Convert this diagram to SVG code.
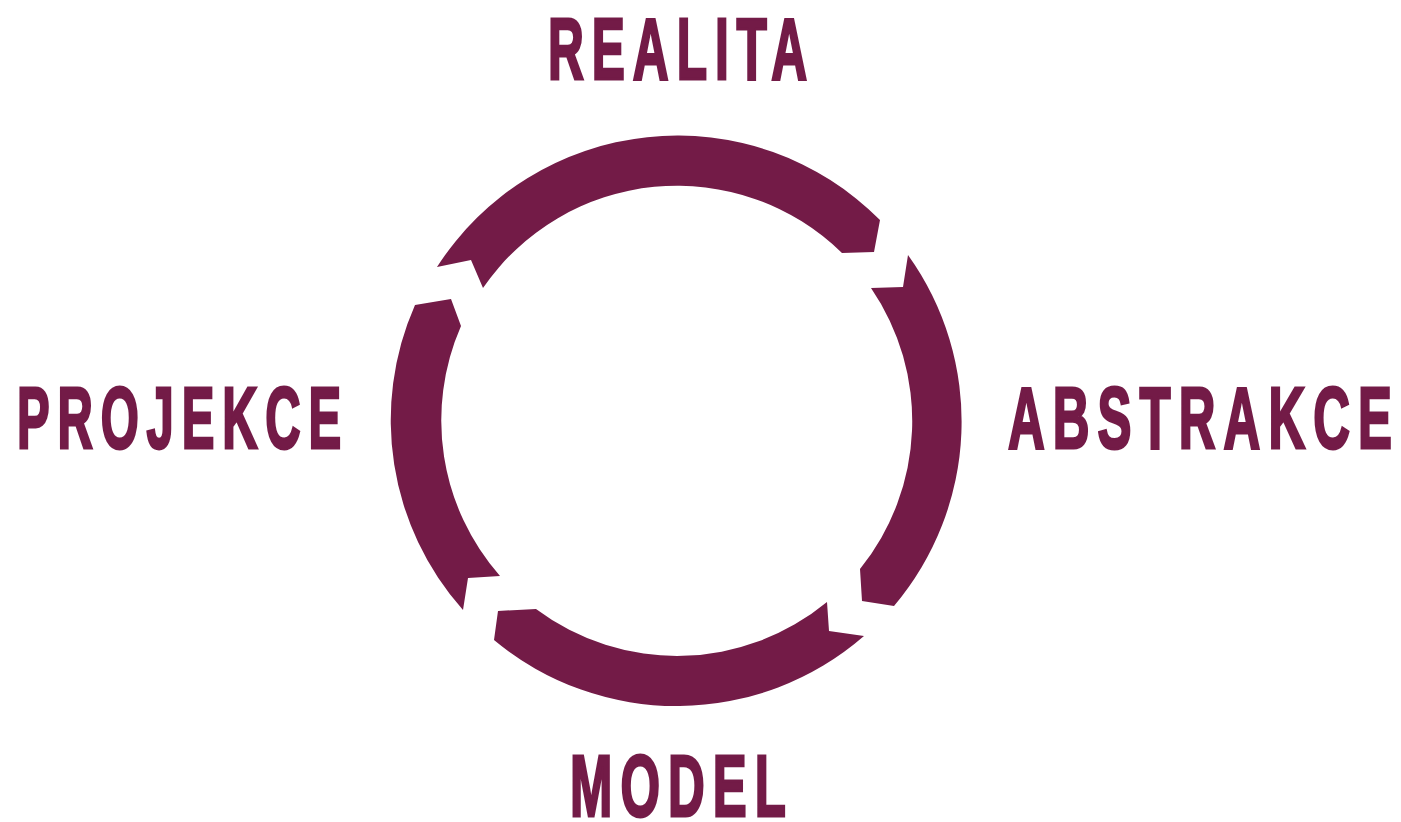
<svg xmlns="http://www.w3.org/2000/svg" width="1401" height="822" viewBox="0 0 1401 822">
<style>
.seg{fill:#731B47;stroke:none}
.lbl{font-family:"Liberation Sans",Arial,sans-serif;font-weight:bold;font-size:88px;letter-spacing:14px;fill:#731B47;stroke:#731B47;stroke-width:3;stroke-linejoin:miter}
</style>
<rect x="0" y="0" width="1401" height="822" fill="#ffffff"/>
<g id="connectors">
<path id="arc-top" class="seg" d="M437,267 A285.5,285.5 0 0 1 880,220 L874,252 L842,253 A235.5,235.5 0 0 0 483,288 L471,260 Z"/>
<path id="arc-right" class="seg" d="M908,255 A285.5,285.5 0 0 1 894,606 L862,601 L860,569 A235.5,235.5 0 0 0 871,288 L903,287 Z"/>
<path id="arc-bottom" class="seg" d="M864,636 A285.5,285.5 0 0 1 494,640 L498,611 L536,609 A235.5,235.5 0 0 0 827,602 L829,631 Z"/>
<path id="arc-left" class="seg" d="M463,610 A285.5,285.5 0 0 1 415,305 L451,299 L461,326 A235.5,235.5 0 0 0 500,576 L468,578 Z"/>
</g>
<g id="node-realita"><text class="lbl" x="548" y="78.5" textLength="267" lengthAdjust="spacingAndGlyphs">REALITA</text></g>
<g id="node-abstrakce"><text class="lbl" x="1008" y="447.5" textLength="392" lengthAdjust="spacingAndGlyphs">ABSTRAKCE</text></g>
<g id="node-model"><text class="lbl" x="570" y="815.5" textLength="224" lengthAdjust="spacingAndGlyphs">MODEL</text></g>
<g id="node-projekce"><text class="lbl" x="17" y="447.5" textLength="332" lengthAdjust="spacingAndGlyphs">PROJEKCE</text></g>
</svg>
